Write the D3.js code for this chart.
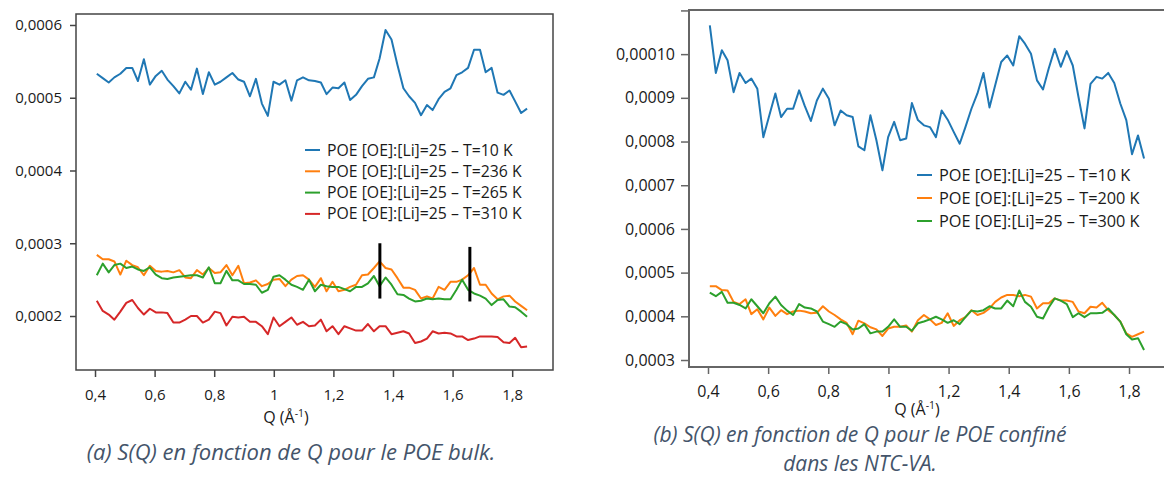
<!DOCTYPE html>
<html>
<head>
<meta charset="utf-8">
<script src="https://cdn.jsdelivr.net/npm/d3@7"></script>
<style>
  body { margin: 0; background: #fff; }
  svg { display: block; font-family: "Open Sans", sans-serif; }
  .tick text { fill: #1a1a1a; }
  .caption { fill: #44546a; font-style: italic; }
</style>
</head>
<body>
<div id="graph"></div>
<script>
// Q grid (Å-1), shared by both panels
const qValues = [
  0.406, 0.426, 0.446, 0.465, 0.485, 0.505, 0.525, 0.544, 0.564, 0.584,
  0.604, 0.624, 0.643, 0.663, 0.683, 0.703, 0.722, 0.742, 0.762, 0.782,
  0.802, 0.821, 0.841, 0.861, 0.881, 0.900, 0.920, 0.940, 0.960, 0.980,
  0.999, 1.019, 1.039, 1.059, 1.078, 1.098, 1.118, 1.138, 1.158, 1.177,
  1.197, 1.217, 1.237, 1.256, 1.276, 1.296, 1.316, 1.336, 1.355, 1.375,
  1.395, 1.415, 1.435, 1.454, 1.474, 1.494, 1.514, 1.533, 1.553, 1.573,
  1.593, 1.613, 1.632, 1.652, 1.672, 1.692, 1.711, 1.731, 1.751, 1.771,
  1.791, 1.810, 1.830, 1.850
];

// S(Q) values, in units of 1e-4
const bulk10K = [
  5.33, 5.27, 5.21, 5.28, 5.33, 5.41, 5.41, 5.23, 5.53, 5.18, 5.30, 5.37, 5.25, 5.16, 5.06, 5.22, 5.11, 5.40,
  5.05, 5.35, 5.18, 5.22, 5.28, 5.34, 5.25, 5.22, 5.02, 5.26, 4.92, 4.75, 5.22, 5.18, 5.24, 4.96, 5.24,
  5.28, 5.24, 5.23, 5.21, 5.05, 5.14, 5.13, 5.21, 4.97, 5.04, 5.16, 5.26, 5.28, 5.54, 5.93, 5.80, 5.45, 5.13,
  5.02, 4.93, 4.76, 4.90, 4.83, 4.98, 5.08, 5.13, 5.31, 5.35, 5.41, 5.66, 5.66, 5.35, 5.41, 5.07, 5.04, 5.10,
  4.95, 4.79, 4.85
];
const bulk236K = [
  2.84, 2.78, 2.78, 2.75, 2.57, 2.76, 2.70, 2.67, 2.56, 2.69, 2.62, 2.61, 2.62, 2.60, 2.63, 2.53, 2.52, 2.63,
  2.57, 2.66, 2.59, 2.60, 2.70, 2.56, 2.69, 2.45, 2.46, 2.49, 2.41, 2.44, 2.50, 2.51, 2.41, 2.50, 2.55,
  2.56, 2.50, 2.40, 2.52, 2.34, 2.47, 2.34, 2.36, 2.40, 2.43, 2.56, 2.57, 2.66, 2.75, 2.66, 2.64, 2.52, 2.39,
  2.39, 2.36, 2.24, 2.27, 2.24, 2.40, 2.36, 2.47, 2.47, 2.50, 2.56, 2.66, 2.43, 2.43, 2.31, 2.23, 2.27, 2.28,
  2.20, 2.14, 2.08
];
const bulk265K = [
  2.56, 2.72, 2.60, 2.70, 2.72, 2.66, 2.68, 2.64, 2.62, 2.67, 2.57, 2.52, 2.51, 2.53, 2.54, 2.55, 2.56, 2.56,
  2.53, 2.67, 2.45, 2.45, 2.62, 2.49, 2.49, 2.44, 2.44, 2.43, 2.32, 2.36, 2.54, 2.56, 2.50, 2.43, 2.40,
  2.36, 2.50, 2.34, 2.43, 2.41, 2.40, 2.40, 2.37, 2.34, 2.40, 2.40, 2.45, 2.55, 2.41, 2.53, 2.43, 2.30, 2.29,
  2.24, 2.20, 2.21, 2.24, 2.23, 2.24, 2.23, 2.23, 2.36, 2.50, 2.36, 2.31, 2.28, 2.24, 2.15, 2.22, 2.23, 2.13,
  2.12, 2.06, 1.99
];
const bulk310K = [
  2.21, 2.07, 2.02, 1.95, 2.06, 2.18, 2.22, 2.11, 2.02, 2.10, 2.05, 2.05, 2.04, 1.91, 1.91, 1.95, 2.00, 2.00,
  1.91, 1.95, 2.06, 2.04, 1.87, 1.99, 1.98, 1.99, 1.92, 1.92, 1.86, 1.75, 1.98, 1.86, 1.92, 1.98, 1.88,
  1.92, 1.86, 1.87, 1.95, 1.79, 1.86, 1.75, 1.86, 1.83, 1.80, 1.80, 1.89, 1.79, 1.86, 1.86, 1.75, 1.77, 1.79,
  1.76, 1.63, 1.65, 1.69, 1.79, 1.76, 1.77, 1.76, 1.72, 1.72, 1.67, 1.69, 1.72, 1.72, 1.72, 1.71, 1.64, 1.63,
  1.70, 1.57, 1.58
];
const conf10K = [
  10.66, 9.57, 10.09, 9.86, 9.13, 9.57, 9.34, 9.44, 9.21, 8.10, 8.60, 9.10, 8.56, 8.75, 8.75, 9.17, 8.81, 8.47,
  8.94, 9.21, 8.98, 8.37, 8.71, 8.60, 8.56, 7.89, 7.80, 8.60, 8.03,
  7.34, 8.10, 8.45, 8.03, 8.07, 8.88, 8.49, 8.37, 8.33, 8.10, 8.71, 8.50, 8.22, 7.95, 8.33, 8.75, 9.10, 9.57,
  8.78, 9.29, 9.82, 9.97, 9.74, 10.41, 10.24, 10.01, 9.40, 9.19, 9.67, 10.12, 9.71, 10.07, 9.74, 9.02, 8.30,
  9.32, 9.48, 9.44, 9.57, 9.34, 8.87, 8.49, 7.71, 8.14, 7.61
];
const conf200K = [
  4.69, 4.69, 4.60, 4.59, 4.33, 4.28, 4.39, 4.05, 4.16, 3.93, 4.20, 4.01, 4.14, 4.05, 4.11, 4.13, 4.11, 4.07,
  4.08, 4.23, 4.11, 4.03, 3.93, 3.85, 3.59, 3.90, 3.84, 3.75, 3.70,
  3.55, 3.72, 3.76, 3.76, 3.79, 3.65, 3.91, 4.03, 3.93, 3.80, 3.85, 4.07, 3.78, 3.91, 3.98, 4.14, 4.03, 4.08,
  4.18, 4.33, 4.43, 4.49, 4.49, 4.46, 4.49, 4.45, 4.18, 4.30, 4.30, 4.41, 4.36, 4.36, 4.33, 4.11, 4.07, 4.22,
  4.20, 4.31, 4.14, 4.03, 3.88, 3.61, 3.53, 3.59, 3.65
];
const conf300K = [
  4.54, 4.46, 4.56, 4.31, 4.31, 4.26, 4.18, 4.39, 4.23, 4.07, 4.30, 4.45, 4.26, 4.13, 4.03, 4.28, 4.20, 4.18,
  4.11, 3.88, 3.82, 3.76, 3.88, 3.82, 3.70, 3.72, 3.82, 3.61, 3.65,
  3.65, 3.76, 3.93, 3.76, 3.76, 3.67, 3.84, 3.88, 3.93, 3.99, 3.93, 3.85, 3.91, 3.82, 3.98, 4.13, 4.11, 4.14,
  4.23, 4.18, 4.18, 4.36, 4.23, 4.59, 4.33, 4.22, 3.99, 3.95, 4.20, 4.41, 4.36, 4.28, 3.98, 4.07, 3.98, 4.07,
  4.07, 4.08, 4.18, 4.03, 3.88, 3.59, 3.47, 3.50, 3.23
];

const bulkLabels = [
  "POE [OE]:[Li]=25 \u2013 T=10 K",
  "POE [OE]:[Li]=25 \u2013 T=236 K",
  "POE [OE]:[Li]=25 \u2013 T=265 K",
  "POE [OE]:[Li]=25 \u2013 T=310 K",
];
const confLabels = [
  "POE [OE]:[Li]=25 \u2013 T=10 K",
  "POE [OE]:[Li]=25 \u2013 T=200 K",
  "POE [OE]:[Li]=25 \u2013 T=300 K",
];
const xTicks = [0.4, 0.6, 0.8, 1, 1.2, 1.4, 1.6, 1.8];
const bulkYTicks = [2, 3, 4, 5, 6];
const bulkYLabels = ["0,0002", "0,0003", "0,0004", "0,0005", "0,0006"];
const confYTicks = [3, 4, 5, 6, 7, 8, 9, 10, 11];
const confYLabels = ["0,0003", "0,0004", "0,0005", "0,0006", "0,0007", "0,0008", "0,0009", "0,00010", ""];
// black peak markers on the bulk panel
const markerQ = [1.356, 1.658];
const markerLow = [2.24, 2.20];
const markerHigh = [3.0, 2.95];

const colors = ["#1f77b4", "#ff7f0e", "#2ca02c", "#d62728"];
const unit = 1e-4;
const w = 1164;
const h = 477;

const svg = d3.select("#graph").append("svg").attr("width", w).attr("height", h);
svg.append("rect").attr("width", w).attr("height", h).attr("fill", "#fff");

const panel = (p) => {
  const x = d3.scaleLinear().domain(p.xDomain).range([p.left, p.right]);
  const y = d3.scaleLinear().domain(p.yDomain.map((d) => d * unit)).range([p.bottom, p.top]);
  const g = svg.append("g");

  g.append("g")
    .attr("transform", `translate(0,${p.bottom})`)
    .call(d3.axisBottom(x).tickValues(xTicks).tickSizeOuter(0).tickSize(7).tickPadding(p.xPad)
      .tickFormat((d) => String(d).replace(".", ",")))
    .call((a) => a.select(".domain").remove())
    .call((a) => a.selectAll("line").attr("stroke", p.frame).attr("stroke-width", 1.5))
    .call((a) => a.selectAll("text").attr("font-size", p.tickFont).attr("font-family", "Open Sans"));

  g.append("g")
    .attr("transform", `translate(${p.left},0)`)
    .call(d3.axisLeft(y).tickValues(p.yTicks.map((d) => d * unit)).tickSizeOuter(0).tickSize(p.yTickSize).tickPadding(p.yPad)
      .tickFormat((d, i) => p.yLabels[i]))
    .call((a) => a.select(".domain").remove())
    .call((a) => a.selectAll("line").attr("stroke", p.frame).attr("stroke-width", 1.5))
    .call((a) => a.selectAll("text").attr("font-size", p.tickFont).attr("font-family", "Open Sans"));

  const line = d3.line().x((d, i) => x(qValues[i])).y((d) => y(d * unit));
  p.series.forEach((s, i) => {
    g.append("path").datum(s).attr("d", line)
      .attr("fill", "none").attr("stroke", colors[i]).attr("stroke-width", 2).attr("stroke-linejoin", "round");
  });

  g.append("rect")
    .attr("x", p.left).attr("y", p.top)
    .attr("width", p.right - p.left).attr("height", p.bottom - p.top)
    .attr("fill", "none").attr("stroke", p.frame).attr("stroke-width", p.frameW);

  const legend = g.append("g").attr("transform", `translate(${p.legX},${p.legY})`);
  p.labels.forEach((t, i) => {
    const row = legend.append("g").attr("transform", `translate(0,${i * p.legStep})`);
    row.append("line").attr("x1", 0).attr("x2", 15).attr("stroke", colors[i]).attr("stroke-width", 2);
    row.append("text").attr("x", 22).attr("dy", "0.35em").attr("font-size", p.legFont).attr("fill", "#1a1a1a").text(t);
  });

  const ql = g.append("text").attr("x", p.qX).attr("y", p.qY).attr("text-anchor", "middle")
    .attr("font-size", 16).attr("fill", "#1a1a1a");
  ql.append("tspan").text("Q (\u00c5");
  ql.append("tspan").attr("font-size", 10.5).attr("dy", -6).text("-1");
  ql.append("tspan").attr("dy", 6).text(")");

  return { x, y, g };
};

const bulk = panel({
  left: 76, right: 553, top: 14, bottom: 370,
  xDomain: [0.3362, 1.937], yDomain: [1.258, 6.151],
  yTicks: bulkYTicks, yLabels: bulkYLabels, yTickSize: 6, yPad: 8, xPad: 12,
  tickFont: 15, frame: "#444", frameW: 1.5,
  series: [bulk10K, bulk236K, bulk265K, bulk310K], labels: bulkLabels,
  legX: 305, legY: 150, legStep: 21.3, legFont: 15.8,
  qX: 286, qY: 423,
});

bulk.g.selectAll(".marker")
  .data(markerQ)
  .enter()
  .append("line")
  .attr("x1", (d) => bulk.x(d)).attr("x2", (d) => bulk.x(d))
  .attr("y1", (d, i) => bulk.y(markerLow[i] * unit)).attr("y2", (d, i) => bulk.y(markerHigh[i] * unit))
  .attr("stroke", "#000").attr("stroke-width", 3);

panel({
  left: 689, right: 1169, top: 10, bottom: 367,
  xDomain: [0.3368, 1.933], yDomain: [2.84, 11.01],
  yTicks: confYTicks, yLabels: confYLabels, yTickSize: 8, yPad: 6, xPad: 12,
  tickFont: 16, frame: "#666", frameW: 2,
  series: [conf10K, conf200K, conf300K], labels: confLabels,
  legX: 917, legY: 175, legStep: 23, legFont: 16.3,
  qX: 917, qY: 414.5,
});

svg.append("text").attr("class", "caption").attr("x", 291).attr("y", 460).attr("text-anchor", "middle")
  .attr("font-size", 22).text("(a) S(Q) en fonction de Q pour le POE bulk.");
svg.append("text").attr("class", "caption").attr("x", 860).attr("y", 442).attr("text-anchor", "middle")
  .attr("font-size", 21).text("(b) S(Q) en fonction de Q pour le POE confiné");
svg.append("text").attr("class", "caption").attr("x", 860).attr("y", 470.5).attr("text-anchor", "middle")
  .attr("font-size", 21).text("dans les NTC-VA.");
</script>
</body>
</html>
